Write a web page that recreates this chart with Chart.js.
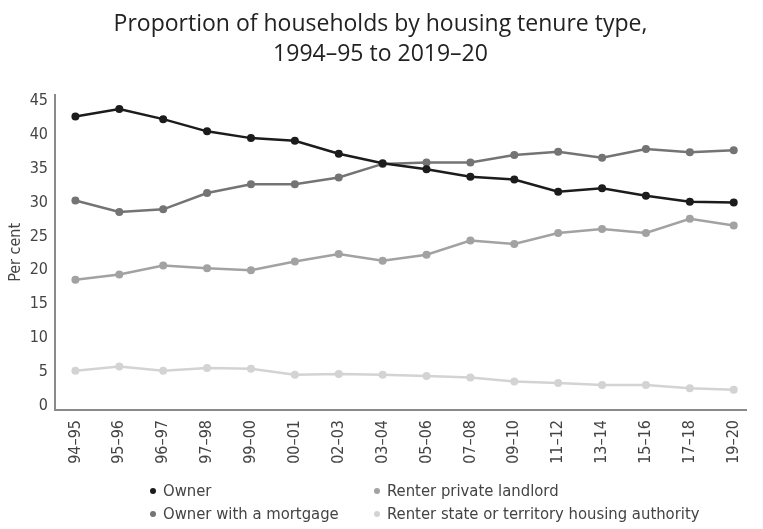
<!DOCTYPE html>
<html>
<head>
<meta charset="utf-8">
<script src="https://cdn.jsdelivr.net/npm/chart.js@4.4.1/dist/chart.umd.min.js"></script>
<style>
  html, body { margin: 0; padding: 0; background: #fff; }
  #wrap { position: relative; width: 763px; height: 529px; }
  #legend { position: absolute; left: 0; top: 0; width: 763px; height: 529px; pointer-events: none;
            font-family: 'Liberation Sans Narrow', 'DejaVu Sans Condensed', 'Arial Narrow', sans-serif;
            font-size: 16.5px; color: #444; }
  .item { position: absolute; white-space: nowrap; line-height: 20px; }
  .dot { position: absolute; width: 6px; height: 6px; border-radius: 50%; top: 7px; }
  .lbl { position: absolute; left: 13px; top: 0; }
</style>
</head>
<body>
<div id="wrap">
  <canvas id="c" width="763" height="529"></canvas>
  <div id="legend"></div>
</div>
<script>
// ---- data ----
const categories = ['94–95','95–96','96–97','97–98','99–00','00–01','02–03','03–04','05–06','07–08','09–10','11–12','13–14','15–16','17–18','19–20'];
const seriesNames = ['Owner','Owner with a mortgage','Renter private landlord','Renter state or territory housing authority'];
const owner    = [42.7, 43.8, 42.3, 40.5, 39.5, 39.1, 37.2, 35.8, 34.9, 33.8, 33.4, 31.6, 32.1, 31.0, 30.1, 30.0];
const mortgage = [30.3, 28.6, 29.0, 31.4, 32.7, 32.7, 33.7, 35.7, 35.9, 35.9, 37.0, 37.5, 36.6, 37.9, 37.4, 37.7];
const privateRent = [18.6, 19.4, 20.7, 20.3, 20.0, 21.3, 22.4, 21.4, 22.3, 24.4, 23.9, 25.5, 26.1, 25.5, 27.6, 26.6];
const publicRent  = [5.2, 5.8, 5.2, 5.6, 5.5, 4.6, 4.7, 4.6, 4.4, 4.2, 3.6, 3.4, 3.1, 3.1, 2.6, 2.4];
const yTicks = [0, 5, 10, 15, 20, 25, 30, 35, 40, 45];
const titleLines = ['Proportion of households by housing tenure type,', '1994–95 to 2019–20'];
const yTitle = 'Per cent';

// ---- styles ----
const colors = ['#1c1c1c', '#747474', '#a2a2a2', '#d3d3d3'];
const allSeries = [owner, mortgage, privateRent, publicRent];
const tickFont = { family: "'Liberation Sans Narrow', 'DejaVu Sans Condensed', 'Arial Narrow', sans-serif", size: 16 };

const datasets = allSeries.map((vals, s) => ({
  label: seriesNames[s],
  data: vals.map((v, i) => ({ x: i, y: v })),
  borderColor: colors[s],
  backgroundColor: colors[s],
  pointBackgroundColor: colors[s],
  pointBorderWidth: 0,
  pointRadius: 4,
  borderWidth: 2.5,
  tension: 0
}));

new Chart(document.getElementById('c'), {
  type: 'line',
  data: { datasets },
  options: {
    responsive: false,
    animation: false,
    layout: { padding: { left: 0, right: 2, top: 0, bottom: 0 } },
    plugins: {
      legend: { display: false },
      tooltip: { enabled: false },
      title: {
        display: true,
        text: titleLines,
        color: '#222',
        font: { family: "'Open Sans', sans-serif", size: 23, weight: 'normal', lineHeight: 1.32 },
        padding: { top: 9, bottom: 25 }
      }
    },
    scales: {
      x: {
        type: 'linear',
        min: -0.465,
        max: 15.298,
        grid: { display: false, drawTicks: false },
        border: { display: true, color: '#8a8a8a', width: 2 },
        afterBuildTicks: (scale) => { scale.ticks = categories.map((_, i) => ({ value: i })); },
        afterFit: (scale) => { scale.height = 119; },
        ticks: {
          autoSkip: false,
          minRotation: 90,
          maxRotation: 90,
          padding: 10,
          color: '#444',
          font: tickFont,
          callback: (v) => categories[v]
        }
      },
      y: {
        min: -0.6,
        max: 45.9,
        grid: { display: false, drawTicks: false },
        border: { display: true, color: '#8a8a8a', width: 2 },
        afterBuildTicks: (scale) => { scale.ticks = yTicks.map(v => ({ value: v })); },
        afterFit: (scale) => { scale.width = 55; },
        ticks: { padding: 7, color: '#444', font: tickFont, callback: (v) => String(v) },
        title: { display: true, text: yTitle, color: '#444', font: tickFont, padding: { top: 6, bottom: 0 } }
      }
    }
  }
});

// ---- HTML legend (two columns) ----
const legendPos = [
  { left: 150, top: 481 },
  { left: 150, top: 504 },
  { left: 374, top: 481 },
  { left: 374, top: 504 }
];
const lg = document.getElementById('legend');
seriesNames.forEach((name, s) => {
  const it = document.createElement('div');
  it.className = 'item';
  it.style.left = legendPos[s].left + 'px';
  it.style.top = legendPos[s].top + 'px';
  const d = document.createElement('span');
  d.className = 'dot';
  d.style.background = colors[s];
  const t = document.createElement('span');
  t.className = 'lbl';
  t.textContent = name;
  it.appendChild(d); it.appendChild(t);
  lg.appendChild(it);
});
</script>
</body>
</html>
